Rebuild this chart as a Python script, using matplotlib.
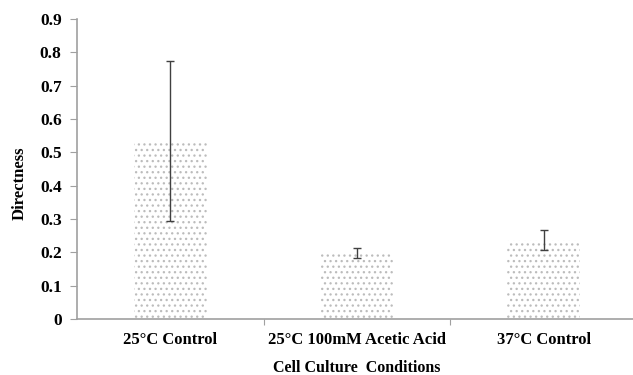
import matplotlib.pyplot as plt
import numpy as np

plt.rcParams['font.family'] = ['Liberation Serif', 'DejaVu Serif']
plt.rcParams['font.weight'] = 'bold'
plt.rcParams['hatch.linewidth'] = 0.9

conditions = ['25°C Control', '25°C 100mM Acetic Acid', '37°C Control']
directness = [0.535, 0.197, 0.237]
errors = [0.24, 0.015, 0.031]
y_ticks = [0, 0.1, 0.2, 0.3, 0.4, 0.5, 0.6, 0.7, 0.8, 0.9]

fig = plt.figure(figsize=(6.33, 3.75), dpi=100)
ax = fig.add_axes([77 / 633, 56 / 375, 560 / 633, 300 / 375])

x = np.arange(len(conditions))
ax.bar(x, directness, width=0.39, color='white', edgecolor='#bcbcbc',
       linewidth=0, hatch='...')
ax.errorbar(x, directness, yerr=errors, fmt='none', ecolor='#404040',
            elinewidth=1.0, capsize=3, capthick=1.0)

ax.set_xlim(-0.5, 2.5)
ax.set_ylim(0, 0.9)
ax.set_yticks(y_ticks)
ax.set_yticklabels([f'{t:g}' for t in y_ticks], fontsize=12.5, fontweight='bold')
ax.set_xticks([0.5, 1.5], minor=False)
ax.set_xticklabels([])
ax.set_xticks(x, minor=True)
ax.set_xticklabels(conditions, minor=True, fontsize=12, fontweight='bold')
ax.tick_params(axis='x', which='minor', length=0, pad=9)
ax.tick_params(axis='x', which='major', length=4, direction='out', color='#a0a0a0')
ax.tick_params(axis='y', length=5, direction='out', color='#a0a0a0', pad=6)

for side in ['top', 'right']:
    ax.spines[side].set_visible(False)
for side in ['left', 'bottom']:
    ax.spines[side].set_color('#a0a0a0')
    ax.spines[side].set_linewidth(1.2)

ax.set_ylabel('Directness', fontsize=12, fontweight='bold')
ax.yaxis.set_label_coords(-0.088, 0.453)
ax.set_xlabel('Cell Culture  Conditions', fontsize=11.5, fontweight='bold')
ax.xaxis.set_label_coords(0.5, -0.138)

fig.savefig('out.png', dpi=100)
